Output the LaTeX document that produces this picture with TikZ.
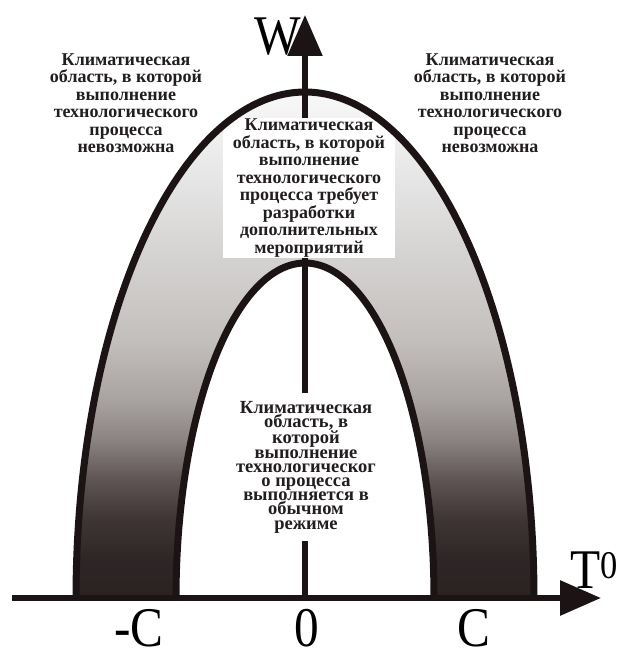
\documentclass[tikz,border=0pt]{standalone}
\usepackage{fontspec}
\setmainfont{Liberation Serif}
\usetikzlibrary{arrows.meta}
\definecolor{ink}{HTML}{1C1414}
\definecolor{txt}{HTML}{221E1E}
\definecolor{sh0}{HTML}{2B2222}
\definecolor{sh1}{HTML}{2E2626}
\definecolor{sh2}{HTML}{3E3434}
\definecolor{sh3}{HTML}{5E5453}
\definecolor{sh4}{HTML}{8A8381}
\definecolor{sh5}{HTML}{A8A3A1}
\definecolor{sh6}{HTML}{C3BFBD}
\definecolor{sh7}{HTML}{D6D4D3}
\definecolor{sh8}{HTML}{E8E8E8}
\definecolor{sh9}{HTML}{F8F8F8}
\pgfdeclareverticalshading{archshade}{100bp}{color(0bp)=(sh0); color(25bp)=(sh0); color(28.75bp)=(sh1); color(32.7bp)=(sh2); color(36.66bp)=(sh3); color(40.6bp)=(sh4); color(44.56bp)=(sh5); color(50.5bp)=(sh6); color(59.4bp)=(sh7); color(67.3bp)=(sh8); color(75bp)=(sh9); color(100bp)=(sh9)}
\tikzset{
  axisline/.style={line width=5.5pt, draw=ink, -{Triangle[length=41pt,width=34pt]}},
  arcline/.style={line width=7pt, draw=ink},
  region/.style={align=center, text=txt, font=\fontsize{18}{17.5}\selectfont\bfseries, inner sep=0pt},
  boxed/.style={region, fill=white},
  axlabel/.style={anchor=base, text=black, font=\fontsize{56}{56}\selectfont, inner sep=0pt, xscale=0.88},
}
\begin{document}
\begin{tikzpicture}[x=1pt,y=-1pt]
\useasboundingbox (0,0) rectangle (628,652);
\fill[white] (0,0) rectangle (628,652);
% gradient band
\path[shading=archshade] plot[domain=0:180,samples=150] ({305+229*cos(\x)},{598-506*sin(\x)}) -- cycle;
\fill[white] plot[domain=0:180,samples=150] ({305+129*cos(\x)},{598-335*sin(\x)}) -- cycle;
% W label (under the arrow)
\node[axlabel, transform shape] (wl) at (278,55) {W};
% vertical axis
\coordinate (o) at (305,598);
\coordinate (wtip) at (305,15);
\draw[axisline] (o) -- (wtip);
% texts
\node[region] (left) at (126,103) {Климатическая\\область, в которой\\выполнение\\технологического\\процесса\\невозможна};
\node[region] (right) at (490,103) {Климатическая\\область, в которой\\выполнение\\технологического\\процесса\\невозможна};
\node[boxed, minimum width=172pt, minimum height=140pt] (mid) at (309,188) {Климатическая\\область, в которой\\выполнение\\технологического\\процесса требует\\разработки\\дополнительных\\мероприятий};
\node[boxed, font=\fontsize{18.5}{14.2}\selectfont\bfseries, minimum width=150pt, minimum height=148pt] (inner) at (306,467) {Климатическая\\область, в\\которой\\выполнение\\технологическог\\о процесса\\выполняется в\\обычном\\режиме};
% arches
\draw[arcline] plot[domain=0:180,samples=150] ({305+229*cos(\x)},{598-506*sin(\x)});
\draw[arcline] plot[domain=0:180,samples=150] ({305+129*cos(\x)},{598-335*sin(\x)});
% horizontal axis
\coordinate (xl) at (12,598);
\coordinate (xr) at (601,598);
\draw[axisline, line width=6pt] (xl) -- (xr);
% axis labels
\node[axlabel, transform shape, anchor=base west] (tl) at (570,588) {T\textsuperscript{0}};
\node[axlabel, transform shape] (mc) at (139,646) {-C};
\node[axlabel, transform shape] (zero) at (307,646) {0};
\node[axlabel, transform shape] (pc) at (474,646) {C};
\end{tikzpicture}
\end{document}
